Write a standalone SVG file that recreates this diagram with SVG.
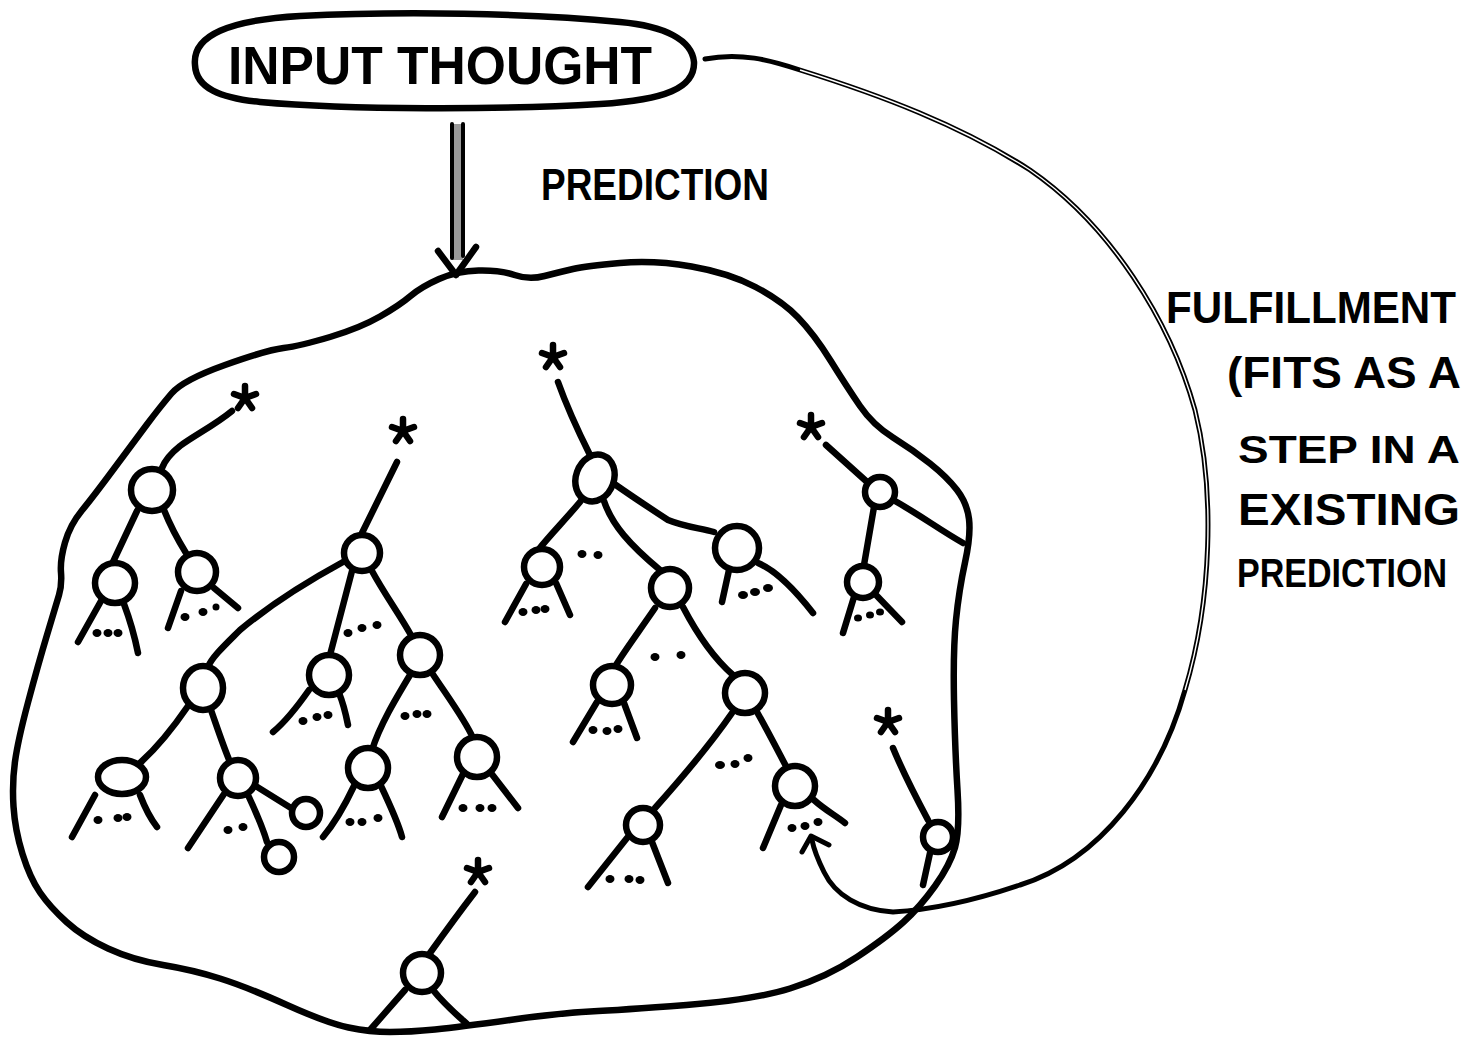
<svg xmlns="http://www.w3.org/2000/svg" width="1470" height="1038" viewBox="0 0 1470 1038">
<style>
.ink{fill:none;stroke:#000;stroke-width:6.5;stroke-linecap:round;stroke-linejoin:round}
.thick{fill:none;stroke:#000;stroke-width:6.5;stroke-linecap:round;stroke-linejoin:round}
.nd{fill:#fff;stroke:#000;stroke-width:6.5}
.dot{fill:#000}
.lbl{font-family:"Liberation Sans",Arial,sans-serif;font-weight:bold;fill:#000}
</style>
<defs>
<g id="star">
<path d="M0 -12 L0 0 M11 -4 L0 0 M7 10 L0 0 M-7 10 L0 0 M-11 -4 L0 0" fill="none" stroke="#000" stroke-width="6.5" stroke-linecap="round"/>
<circle r="5" fill="#000"/>
</g>
</defs>
<rect width="1470" height="1038" fill="#fff"/>

<g id="input-thought">
<path class="thick" d="M195 65 C192 35 230 20 300 16 C400 11 530 13 620 22 C665 26 692 40 694 62 C695 88 665 100 600 104 C500 110 350 110 260 102 C220 98 196 88 195 65 Z"/>
<text class="lbl" x="228" y="84" font-size="54" textLength="424" lengthAdjust="spacingAndGlyphs">INPUT THOUGHT</text>
</g>

<text class="lbl" x="541" y="200" font-size="44" textLength="228" lengthAdjust="spacingAndGlyphs">PREDICTION</text>

<g id="prediction-space">
<path class="thick" d="M478.5 270.5 Q500 270 514.5 275 Q529 280 544.5 276 Q560 272 573 269 Q586 266 620 263 Q654 260 691.5 266.5 Q729 273 755.5 287 Q782 301 798 317.5 Q814 334 830.5 360.5 Q847 387 860 406 Q873 425 893 437.5 Q913 450 930 463.5 Q947 477 957 490 Q967 503 969 519 Q971 535 965 562.5 Q959 590 956 620 Q953 650 954 700 Q955 750 957.5 790 Q960 830 955 847.5 Q950 865 935 886 Q920 907 903.5 922 Q887 937 857 957 Q827 977 790 988.5 Q753 1000 686.5 1005 Q620 1010 590 1011.5 Q560 1013 510 1020 Q460 1027 435 1029.5 Q410 1032 390 1032 Q370 1032 348.5 1027.5 Q327 1023 287 1005 Q247 987 220 978.5 Q193 970 163 965 Q133 960 108 948.5 Q83 937 66.5 922 Q50 907 40 892.5 Q30 878 22.5 854 Q15 830 13.5 806.5 Q12 783 15 761.5 Q18 740 28 702.5 Q38 665 47 635 Q56 605 59 595 Q62 585 61 572.5 Q60 560 65 542.5 Q70 525 81.5 511 Q93 497 113 470 Q133 443 146.5 425 Q160 407 171.5 393.5 Q183 380 225 365 Q267 350 283.5 348 Q300 346 330 337 Q360 328 380 316.5 Q400 305 410.5 296 Q421 287 439 279 Q457 271 478.5 270.5 Z"/>
</g>

<g id="connectors">
<g id="prediction-arrow">
<rect x="452" y="124" width="11" height="136" fill="#9a9a9a"/>
<path d="M452 124 L452 258 M463 124 L463 256" fill="none" stroke="#000" stroke-width="4" stroke-linecap="round"/>
<path class="ink" d="M438 251 L456 275 L476 247"/>
</g>
<g id="fulfillment-loop">
<path d="M705 59 C740 52 770 60 800 70 C880 95 960 125 1030 170 C1110 225 1170 320 1195 410 C1215 490 1212 600 1185 690 C1160 780 1100 860 1020 885 C970 902 930 910 893 912 C860 910 835 895 824 872 C818 860 814 850 812 840" fill="none" stroke="#000" stroke-width="5" stroke-linecap="round"/>
<path d="M800 70 C880 95 960 125 1030 170 C1110 225 1170 320 1195 410 C1215 490 1212 600 1185 690" fill="none" stroke="#fff" stroke-width="1.4"/>
<path d="M802 852 L811 836 L829 845" fill="none" stroke="#000" stroke-width="5" stroke-linecap="round" stroke-linejoin="round"/>
</g>
</g>

<g id="fulfillment-label">
<text class="lbl" x="1166" y="323" font-size="44" textLength="290" lengthAdjust="spacingAndGlyphs">FULFILLMENT</text>
<text class="lbl" x="1227" y="388" font-size="44" textLength="234" lengthAdjust="spacingAndGlyphs">(FITS AS A</text>
<text class="lbl" x="1238" y="463" font-size="38" textLength="222" lengthAdjust="spacingAndGlyphs">STEP IN A</text>
<text class="lbl" x="1238" y="525" font-size="44" textLength="222" lengthAdjust="spacingAndGlyphs">EXISTING</text>
<text class="lbl" x="1237" y="587" font-size="40" textLength="210" lengthAdjust="spacingAndGlyphs">PREDICTION</text>
</g>

<g id="tree-a">
<use href="#star" x="245" y="398"/>
<path class="ink" d="M232 411 C215 425 195 435 180 446 C170 454 165 460 162 468 M137 511 L113 562 M164 510 C172 530 178 540 186 553 M101 601 L78 642 M124 604 C130 620 135 638 138 653 M181 591 L168 628 M214 588 L238 608"/>
<circle class="nd" cx="152" cy="490" r="21"/>
<circle class="nd" cx="115" cy="583" r="20"/>
<circle class="nd" cx="197" cy="572" r="19"/>
<g class="dot"><ellipse cx="97" cy="633" rx="4.5" ry="4"/><ellipse cx="108" cy="633" rx="4.5" ry="4"/><ellipse cx="118" cy="633" rx="4.5" ry="4"/><ellipse cx="185" cy="617" rx="4.5" ry="4"/><ellipse cx="203" cy="612" rx="4.5" ry="4"/><ellipse cx="216" cy="607" rx="3.5" ry="3.5"/></g>
</g>

<g id="tree-b">
<use href="#star" x="403" y="431"/>
<path class="ink" d="M397 462 L362 533 M343 562 C310 580 270 605 240 630 C225 645 212 657 208 667 M352 571 L330 655 M372 571 C385 595 400 615 412 637 M309 690 C295 710 285 722 273 732 M339 693 C344 705 346 715 348 725 M410 675 C395 700 380 725 372 750 M432 673 C450 700 465 720 473 738 M354 786 C345 805 333 825 323 837 M381 786 C390 805 398 822 402 837 M463 774 L442 817 M491 773 L518 808 M188 706 C175 725 160 745 140 763 M211 710 C218 730 224 748 230 762 M95 795 L72 837 M140 795 C145 808 150 818 157 827 M224 794 L188 848 M248 795 C255 810 262 825 267 842 M254 785 L291 808"/>
<circle class="nd" cx="362" cy="553" r="18"/>
<ellipse class="nd" cx="203" cy="688" rx="20" ry="22"/>
<circle class="nd" cx="329" cy="675" r="20"/>
<circle class="nd" cx="420" cy="655" r="20"/>
<circle class="nd" cx="368" cy="768" r="20"/>
<circle class="nd" cx="477" cy="757" r="20"/>
<ellipse class="nd" cx="122" cy="777" rx="24" ry="17"/>
<circle class="nd" cx="238" cy="778" r="18"/>
<circle class="nd" cx="279" cy="857" r="15"/>
<circle class="nd" cx="306" cy="813" r="14"/>
<g class="dot"><ellipse cx="348" cy="633" rx="4.5" ry="4"/><ellipse cx="362" cy="628" rx="4.5" ry="4"/><ellipse cx="377" cy="625" rx="4.5" ry="4"/><ellipse cx="303" cy="721" rx="4.5" ry="4"/><ellipse cx="317" cy="717" rx="4.5" ry="4"/><ellipse cx="328" cy="715" rx="4.5" ry="4"/><ellipse cx="405" cy="716" rx="4.5" ry="4"/><ellipse cx="417" cy="714" rx="4.5" ry="4"/><ellipse cx="427" cy="714" rx="4.5" ry="4"/><ellipse cx="350" cy="822" rx="4.5" ry="4"/><ellipse cx="362" cy="822" rx="4.5" ry="4"/><ellipse cx="378" cy="818" rx="4.5" ry="4"/><ellipse cx="463" cy="808" rx="4.5" ry="4"/><ellipse cx="480" cy="808" rx="4.5" ry="4"/><ellipse cx="492" cy="808" rx="4.5" ry="4"/><ellipse cx="98" cy="820" rx="4.5" ry="4"/><ellipse cx="118" cy="818" rx="4.5" ry="4"/><ellipse cx="127" cy="817" rx="4.5" ry="4"/><ellipse cx="228" cy="830" rx="4.5" ry="4"/><ellipse cx="243" cy="827" rx="4.5" ry="4"/></g>
</g>

<g id="tree-c">
<use href="#star" x="553" y="357"/>
<path class="ink" d="M558 382 C568 410 580 435 590 455 M580 502 C565 520 550 535 539 549 M604 501 C612 525 630 545 660 570 M613 483 C630 495 645 505 668 520 C685 527 700 528 714 532 M526 584 L505 622 M556 583 L570 615 M729 570 L722 602 M758 563 C775 570 795 590 813 613 M655 608 C640 630 625 650 616 665 M683 607 C695 630 710 655 733 675 M597 702 L573 742 M624 703 L637 738 M732 713 C710 745 680 780 655 808 M757 712 C770 735 780 755 787 768 M627 838 L588 887 M652 842 L668 883 M781 805 L763 848 M814 800 C825 810 835 815 845 823"/>
<ellipse class="nd" cx="595" cy="478" rx="19" ry="24" transform="rotate(20 595 478)"/>
<circle class="nd" cx="542" cy="567" r="18"/>
<circle class="nd" cx="670" cy="588" r="19"/>
<circle class="nd" cx="737" cy="548" r="22"/>
<circle class="nd" cx="612" cy="685" r="19"/>
<circle class="nd" cx="745" cy="693" r="20"/>
<circle class="nd" cx="643" cy="825" r="17"/>
<circle class="nd" cx="795" cy="786" r="20"/>
<g class="dot"><ellipse cx="582" cy="554" rx="4.5" ry="4"/><ellipse cx="598" cy="555" rx="4.5" ry="4"/><ellipse cx="523" cy="612" rx="4.5" ry="4"/><ellipse cx="536" cy="610" rx="4.5" ry="4"/><ellipse cx="545" cy="609" rx="4.5" ry="4"/><ellipse cx="743" cy="595" rx="5" ry="4"/><ellipse cx="755" cy="592" rx="5" ry="4"/><ellipse cx="768" cy="588" rx="5" ry="4"/><ellipse cx="655" cy="657" rx="4.5" ry="4"/><ellipse cx="681" cy="655" rx="4.5" ry="4"/><ellipse cx="593" cy="730" rx="4.5" ry="4"/><ellipse cx="607" cy="731" rx="4.5" ry="4"/><ellipse cx="618" cy="729" rx="4.5" ry="4"/><ellipse cx="720" cy="765" rx="5" ry="4"/><ellipse cx="735" cy="764" rx="4.5" ry="4"/><ellipse cx="748" cy="758" rx="4.5" ry="4"/><ellipse cx="610" cy="879" rx="4.5" ry="4"/><ellipse cx="629" cy="879" rx="4.5" ry="4"/><ellipse cx="640" cy="880" rx="4.5" ry="4"/><ellipse cx="792" cy="828" rx="4.5" ry="4"/><ellipse cx="805" cy="826" rx="4.5" ry="4"/><ellipse cx="818" cy="822" rx="4.5" ry="4"/></g>
</g>

<g id="tree-r">
<use href="#star" x="811" y="427"/>
<path class="ink" d="M826 445 L866 481 M895 501 C920 515 940 530 963 543 M874 507 L864 565 M854 597 L843 633 M877 596 L902 622"/>
<circle class="nd" cx="880" cy="492" r="15"/>
<circle class="nd" cx="863" cy="582" r="16"/>
<g class="dot"><ellipse cx="858" cy="618" rx="4" ry="3.5"/><ellipse cx="870" cy="615" rx="4" ry="3.5"/><ellipse cx="880" cy="612" rx="4" ry="3.5"/></g>
</g>

<g id="tree-d">
<use href="#star" x="888" y="722"/>
<path class="ink" d="M893 748 C900 765 912 790 928 820 M930 853 L923 885"/>
<circle class="nd" cx="938" cy="837" r="15"/>
</g>

<g id="tree-e">
<use href="#star" x="478" y="872"/>
<path class="ink" d="M475 892 C465 905 450 925 430 953 M405 990 L370 1030 M433 990 C445 1005 457 1015 467 1024"/>
<circle class="nd" cx="422" cy="973" r="19"/>
</g>
</svg>
